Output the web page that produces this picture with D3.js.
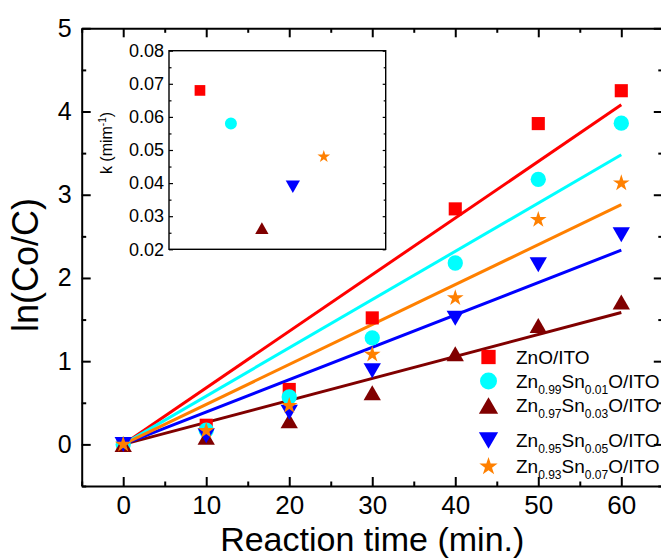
<!DOCTYPE html>
<html>
<head>
<meta charset="utf-8">
<script src="https://cdn.jsdelivr.net/npm/d3@7"></script>
<style>
  body { margin: 0; background: #fff; }
  svg { display: block; font-family: "Liberation Sans", Arial, sans-serif; }
</style>
</head>
<body>
<svg id="chart"></svg>
<script>
// reaction time (min.)
const times = [0, 10, 20, 30, 40, 50, 60];

// ln(Co/C) for each film
const znoIto = [0, 0.23, 0.66, 1.52, 2.83, 3.855, 4.25];
const sn001 = [0, 0.17, 0.57, 1.28, 2.18, 3.185, 3.86];
const sn003 = [0, 0.085, 0.285, 0.62, 1.09, 1.43, 1.71];
const sn005 = [0, 0.105, 0.385, 0.885, 1.515, 2.16, 2.52];
const sn007 = [0, 0.165, 0.465, 1.08, 1.76, 2.70, 3.14];

// rate constant k (min^-1) = slope of each fitted line, also the inset points
const kValues = [0.068, 0.058, 0.0264, 0.0389, 0.048];

// legend labels: [text, subscript?]
const labels = [
  [['ZnO/ITO', false]],
  [['Zn', false], ['0.99', true], ['Sn', false], ['0.01', true], ['O/ITO', false]],
  [['Zn', false], ['0.97', true], ['Sn', false], ['0.03', true], ['O/ITO', false]],
  [['Zn', false], ['0.95', true], ['Sn', false], ['0.05', true], ['O/ITO', false]],
  [['Zn', false], ['0.93', true], ['Sn', false], ['0.07', true], ['O/ITO', false]]
];

const xTicks = [0, 10, 20, 30, 40, 50, 60];
const xMinor = [-5, 5, 15, 25, 35, 45, 55, 65];
const yTicks = [0, 1, 2, 3, 4, 5];
const yMinor = [-0.5, 0.5, 1.5, 2.5, 3.5, 4.5];
const kTicks = [0.02, 0.03, 0.04, 0.05, 0.06, 0.07, 0.08];
const kMinor = [0.025, 0.035, 0.045, 0.055, 0.065, 0.075];

const seriesValues = [znoIto, sn001, sn003, sn005, sn007];
const colors = ['#ff0000', '#00ffff', '#800000', '#0000ff', '#ff8000'];

// triangles centred on their bounding box (like Origin)
const triUp = {
  draw(ctx, size) {
    const w = Math.sqrt(size * 4 / Math.sqrt(3)), h = w * Math.sqrt(3) / 2;
    ctx.moveTo(0, -h / 2); ctx.lineTo(w / 2, h / 2); ctx.lineTo(-w / 2, h / 2); ctx.closePath();
  }
};
const triDown = {
  draw(ctx, size) {
    const w = Math.sqrt(size * 4 / Math.sqrt(3)), h = w * Math.sqrt(3) / 2;
    ctx.moveTo(0, h / 2); ctx.lineTo(w / 2, -h / 2); ctx.lineTo(-w / 2, -h / 2); ctx.closePath();
  }
};
const shapes = [d3.symbolSquare, d3.symbolCircle, triUp, triDown, d3.symbolStar];
const mainSizes = [172, 184, 130, 130, 86];
const legendSizes = [204, 227, 160, 160, 104];
const insetSizes = [114, 113, 77, 88, 50];

const width = 661, height = 558;
const svg = d3.select('#chart').attr('width', width).attr('height', height);
svg.append('rect').attr('width', width).attr('height', height).attr('fill', '#fff');

const x = d3.scaleLinear().domain([-5, 65]).range([81.7, 662.8]);
const y = d3.scaleLinear().domain([-0.5, 5]).range([486, 28.3]);

// axes, ticks pointing inward
function styleAxis(g, fs) {
  g.attr('font-family', null).attr('font-size', fs);
  g.selectAll('path, line').attr('stroke', '#000').attr('stroke-width', 2);
  g.selectAll('text').attr('fill', '#000');
}

svg.append('g').attr('transform', `translate(0,${y(-0.5)})`)
  .call(d3.axisBottom(x).tickValues(xTicks).tickSize(-9).tickSizeOuter(0).tickPadding(9.5).tickFormat(d3.format('d')))
  .call(g => styleAxis(g, 26));
svg.append('g').attr('transform', `translate(0,${y(-0.5)})`)
  .call(d3.axisBottom(x).tickValues(xMinor).tickSize(-4.5).tickFormat(''))
  .call(g => { styleAxis(g, 0); g.select('.domain').remove(); });
svg.append('g').attr('transform', `translate(0,${y(5)})`)
  .call(d3.axisTop(x).tickValues(xTicks).tickSize(-9).tickSizeOuter(0).tickFormat(''))
  .call(g => styleAxis(g, 0));
svg.append('g').attr('transform', `translate(0,${y(5)})`)
  .call(d3.axisTop(x).tickValues(xMinor).tickSize(-4.5).tickFormat(''))
  .call(g => { styleAxis(g, 0); g.select('.domain').remove(); });

svg.append('g').attr('transform', `translate(${x(-5)},0)`)
  .call(d3.axisLeft(y).tickValues(yTicks).tickSize(-9).tickSizeOuter(0).tickPadding(10).tickFormat(d3.format('d')))
  .call(g => styleAxis(g, 25));
svg.append('g').attr('transform', `translate(${x(-5)},0)`)
  .call(d3.axisLeft(y).tickValues(yMinor).tickSize(-4.5).tickFormat(''))
  .call(g => { styleAxis(g, 0); g.select('.domain').remove(); });
svg.append('g').attr('transform', `translate(${x(65)},0)`)
  .call(d3.axisRight(y).tickValues(yTicks).tickSize(-9).tickSizeOuter(0).tickFormat(''))
  .call(g => styleAxis(g, 0));
svg.append('g').attr('transform', `translate(${x(65)},0)`)
  .call(d3.axisRight(y).tickValues(yMinor).tickSize(-4.5).tickFormat(''))
  .call(g => { styleAxis(g, 0); g.select('.domain').remove(); });

// axis titles
svg.append('text')
  .attr('x', x(30)).attr('y', 550.5)
  .attr('text-anchor', 'middle').attr('font-size', 34)
  .text('Reaction time (min.)');
svg.append('text')
  .attr('transform', `translate(38,${265}) rotate(-90)`)
  .attr('text-anchor', 'middle').attr('font-size', 36)
  .text('ln(Co/C)');

// fitted lines through the origin
const line = d3.line().x(d => x(d[0])).y(d => y(d[1]));
kValues.forEach((k, i) => {
  svg.append('path')
    .datum([[0, 0], [60, k * 60]])
    .attr('fill', 'none')
    .attr('stroke', colors[i])
    .attr('stroke-width', 3)
    .attr('d', line);
});

// data points
seriesValues.forEach((vals, i) => {
  svg.append('g').selectAll('path')
    .data(vals.map((v, j) => ({ t: times[j], v })))
    .join('path')
    .attr('transform', d => `translate(${x(d.t)},${y(d.v)})`)
    .attr('d', d3.symbol(shapes[i], mainSizes[i]))
    .attr('fill', colors[i]);
});

// legend
const legendBase = [363.5, 387.5, 412, 447, 473];
const legend = svg.append('g');
labels.forEach((parts, i) => {
  legend.append('path')
    .attr('transform', `translate(488.5,${legendBase[i] - 6.5})`)
    .attr('d', d3.symbol(shapes[i], legendSizes[i]))
    .attr('fill', colors[i]);
  const t = legend.append('text').attr('x', 516).attr('y', legendBase[i]).attr('font-size', 19);
  let sub = false;
  parts.forEach(([s, isSub]) => {
    const dy = isSub && !sub ? 6 : (!isSub && sub ? -6 : 0);
    t.append('tspan').attr('dy', dy).attr('font-size', isSub ? 12 : 19).text(s);
    sub = isSub;
  });
});

// inset: k of each sample
const xk = d3.scaleLinear().domain([0, 7]).range([169, 385.7]);
const yk = d3.scaleLinear().domain([0.02, 0.08]).range([249.3, 50.7]);

const inset = svg.append('g');
inset.append('rect')
  .attr('x', xk(0)).attr('y', yk(0.08))
  .attr('width', xk(7) - xk(0)).attr('height', yk(0.02) - yk(0.08))
  .attr('fill', '#fff').attr('stroke', '#000').attr('stroke-width', 1.4);

function styleInset(g, fs) {
  g.attr('font-family', null).attr('font-size', fs);
  g.select('.domain').remove();
  g.selectAll('line').attr('stroke', '#000').attr('stroke-width', 1.2);
  g.selectAll('text').attr('fill', '#000');
}
inset.append('g').attr('transform', `translate(${xk(0)},0)`)
  .call(d3.axisLeft(yk).tickValues(kTicks).tickSize(-4).tickPadding(5).tickFormat(d3.format('.2f')))
  .call(g => styleInset(g, 18));
inset.append('g').attr('transform', `translate(${xk(0)},0)`)
  .call(d3.axisLeft(yk).tickValues(kMinor).tickSize(-2.5).tickFormat(''))
  .call(g => styleInset(g, 0));
inset.append('g').attr('transform', `translate(${xk(7)},0)`)
  .call(d3.axisRight(yk).tickValues(kTicks).tickSize(-3).tickFormat(''))
  .call(g => styleInset(g, 0));
inset.append('g').attr('transform', `translate(${xk(7)},0)`)
  .call(d3.axisRight(yk).tickValues(kMinor).tickSize(-2).tickFormat(''))
  .call(g => styleInset(g, 0));

const kLabel = inset.append('text')
  .attr('transform', `translate(112,143) rotate(-90)`)
  .attr('text-anchor', 'middle').attr('font-size', 16);
kLabel.append('tspan').text('k (mim');
kLabel.append('tspan').attr('dy', -6).attr('font-size', 10).text('-1');
kLabel.append('tspan').attr('dy', 6).text(')');

inset.append('g').selectAll('path')
  .data(kValues)
  .join('path')
  .attr('transform', (d, i) => `translate(${xk(i + 1)},${yk(d)})`)
  .attr('d', (d, i) => d3.symbol(shapes[i], insetSizes[i])())
  .attr('fill', (d, i) => colors[i]);
</script>
</body>
</html>
